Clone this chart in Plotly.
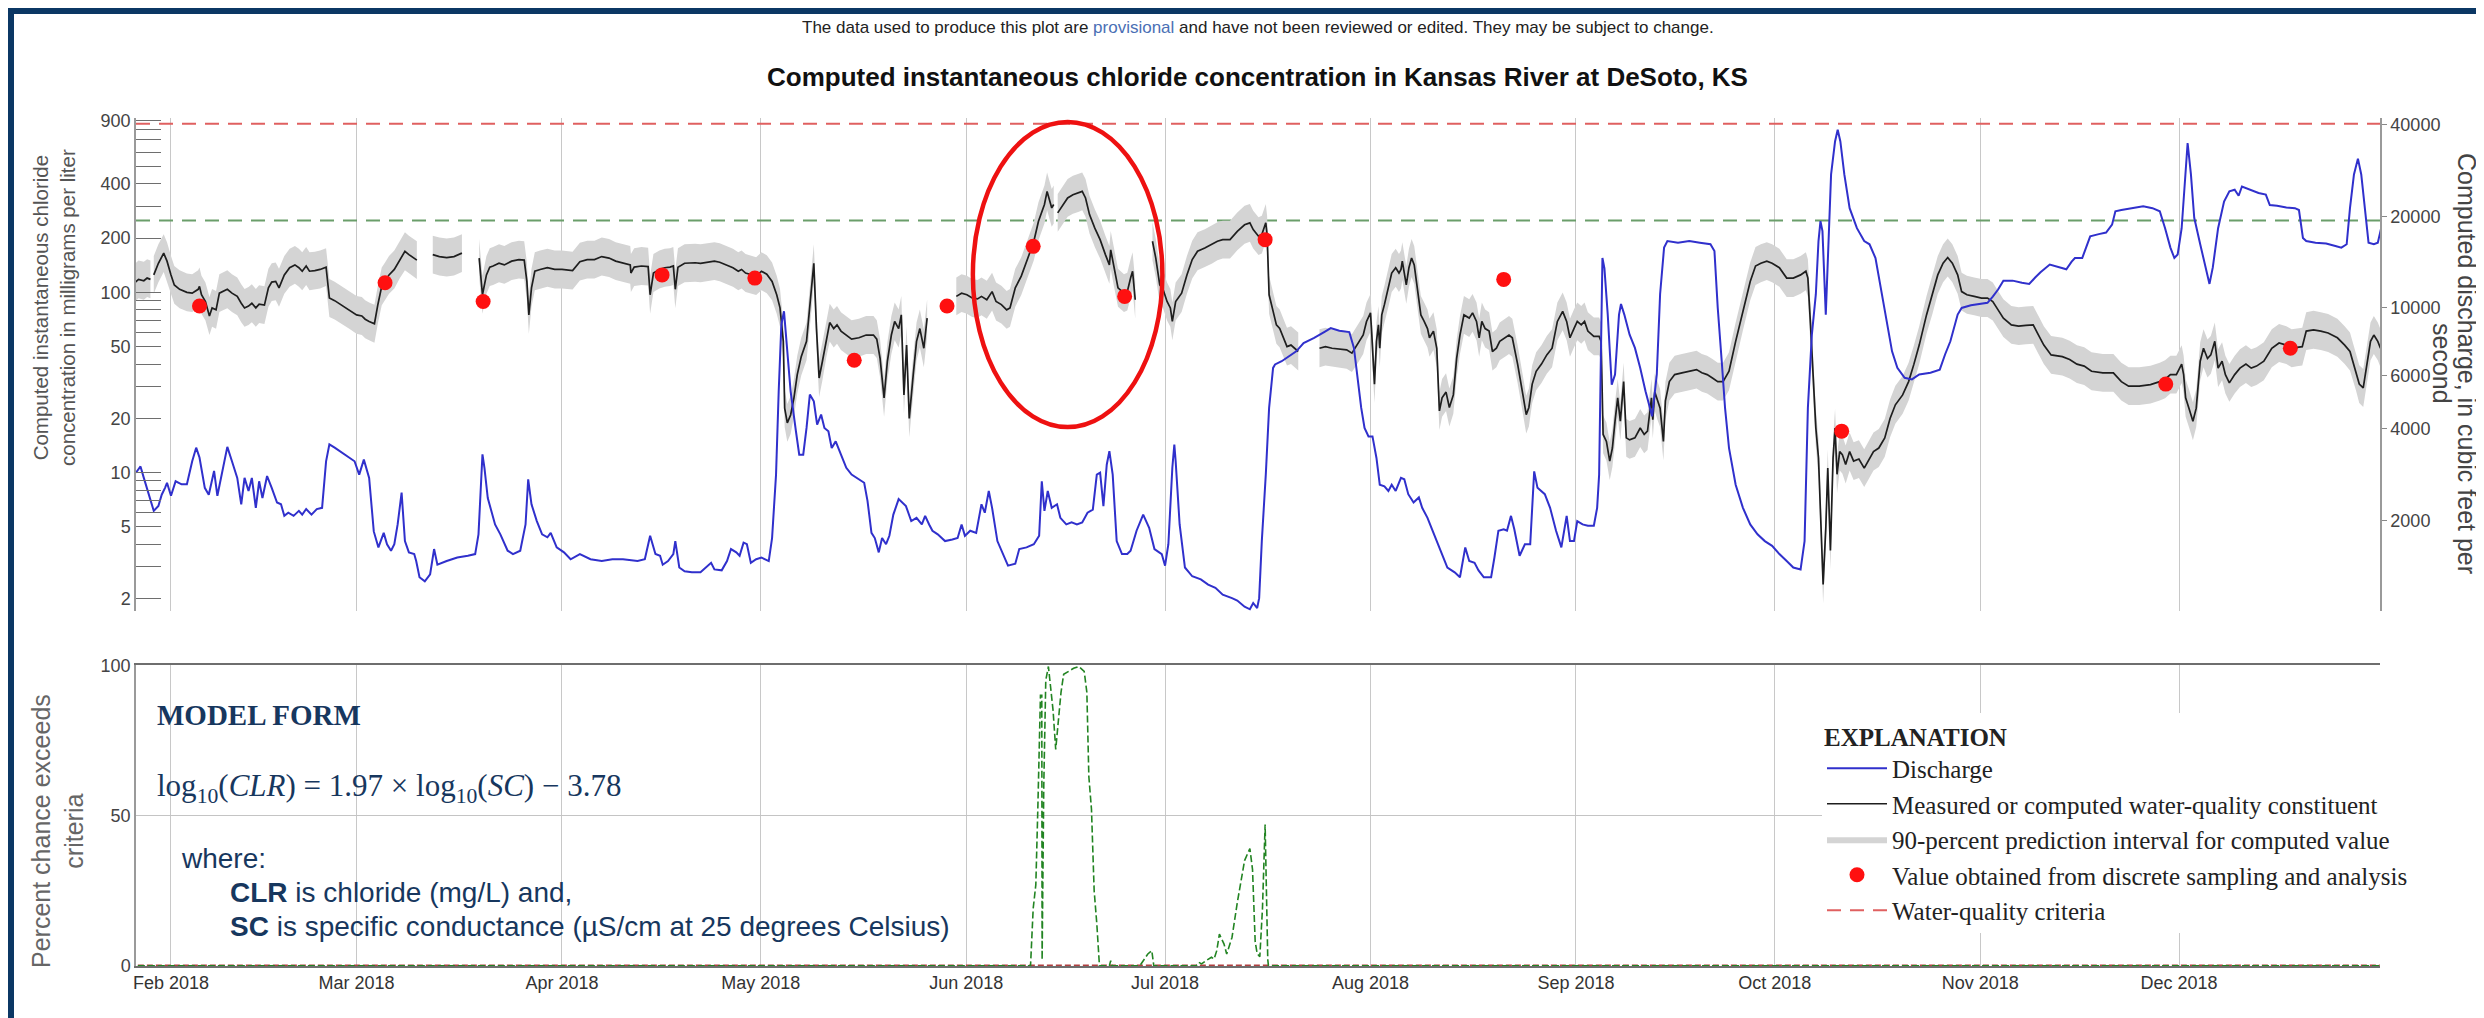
import pandas as pd
import plotly.graph_objects as go

BASE = pd.Timestamp("2018-01-01")          # day-of-year 0
X_RANGE_DAYS = (25.72, 364.33)

# Discharge, cubic feet per second: (day of year 2018, value)
DISCHARGE = [
    (25.7, 2870), (26.4, 3010), (26.9, 2760), (27.7, 2430), (28.4, 2150), (29.1, 2230), (29.6, 2430),
    (30.1, 2560), (30.4, 2660), (31.0, 2410), (31.7, 2690), (32.6, 2630), (33.4, 2630), (34.2, 3130),
    (34.8, 3470), (35.3, 3220), (36.1, 2560), (36.7, 2430), (37.5, 2910), (38.0, 2410), (38.8, 2980),
    (39.5, 3490), (40.2, 3130), (41.0, 2760), (41.6, 2260), (42.1, 2760), (42.7, 2500), (43.2, 2760),
    (43.8, 2200), (44.3, 2690), (44.8, 2370), (45.5, 2800), (46.2, 2560), (47.0, 2290), (47.6, 2260),
    (48.1, 2070), (48.7, 2120), (49.5, 2070), (50.3, 2150), (50.8, 2090), (51.4, 2180), (52.2, 2090),
    (53.0, 2180), (53.8, 2200), (54.4, 3130), (54.9, 3560), (55.7, 3470), (56.8, 3340), (57.9, 3220),
    (58.7, 3130), (59.4, 2830), (60.1, 3170), (60.9, 2760), (61.6, 1840), (62.3, 1630), (63.1, 1820),
    (63.6, 1670), (64.2, 1590), (64.7, 1670), (65.2, 1940), (65.8, 2470), (66.0, 2090), (66.3, 1710),
    (66.9, 1570), (67.7, 1550), (68.0, 1470), (68.5, 1300), (69.3, 1260), (70.1, 1330), (70.7, 1610),
    (71.2, 1430), (72.6, 1470), (74.2, 1510), (75.8, 1530), (76.9, 1550), (77.4, 1800), (78.0, 3300),
    (78.3, 2980), (78.8, 2370), (79.9, 1940), (80.7, 1800), (81.8, 1590), (82.6, 1550), (83.7, 1590),
    (84.5, 1940), (84.9, 2730), (85.4, 2260), (86.2, 1990), (87.0, 1800), (87.8, 1760), (88.3, 1820),
    (89.2, 1630), (90.3, 1570), (91.3, 1490), (92.7, 1550), (94.3, 1490), (96.0, 1470), (97.6, 1490),
    (99.2, 1490), (101.4, 1470), (102.5, 1490), (103.3, 1780), (104.1, 1550), (104.8, 1530), (105.2, 1430),
    (106.0, 1470), (106.8, 1550), (107.1, 1710), (107.7, 1400), (108.5, 1360), (109.6, 1350), (110.9, 1350),
    (112.0, 1420), (112.5, 1450), (113.0, 1380), (114.1, 1370), (114.9, 1470), (115.5, 1610), (116.3, 1570),
    (116.8, 1530), (117.4, 1690), (117.9, 1670), (118.5, 1450), (119.3, 1490), (120.1, 1510), (121.2, 1470),
    (121.7, 1750), (122.3, 2830), (122.7, 5320), (123.1, 8810), (123.5, 9750), (123.9, 7770), (124.5, 5320),
    (125.3, 3930), (125.8, 3290), (126.4, 3290), (126.9, 4030), (127.4, 5190), (128.0, 4930), (128.5, 4130),
    (129.1, 4460), (129.6, 4030), (130.2, 3930), (130.7, 3460), (131.3, 3640), (132.1, 3290), (132.9, 2980),
    (133.7, 2830), (134.8, 2730), (135.6, 2660), (136.1, 2320), (136.7, 1820), (137.2, 1750), (137.8, 1570),
    (138.3, 1750), (138.9, 1670), (139.4, 1780), (140.0, 2090), (140.8, 2350), (141.9, 2230), (142.7, 1990),
    (143.5, 2040), (144.3, 1940), (144.8, 2070), (145.4, 1940), (145.9, 1850), (146.7, 1800), (147.8, 1710),
    (148.9, 1730), (149.7, 1750), (150.3, 1940), (150.8, 1780), (151.6, 1850), (152.5, 1820), (153.3, 2260),
    (153.8, 2120), (154.4, 2500), (154.9, 2200), (155.7, 1710), (156.5, 1550), (157.3, 1420), (158.4, 1440),
    (159.0, 1610), (160.1, 1630), (161.2, 1670), (162.0, 1780), (162.4, 2690), (162.8, 2150), (163.3, 2500),
    (163.9, 2200), (164.7, 2260), (165.2, 2040), (166.1, 1940), (166.9, 1970), (167.7, 1940), (168.5, 1970),
    (169.3, 2120), (170.1, 2170), (170.7, 2830), (171.2, 2870), (171.7, 2230), (172.2, 3050), (172.6, 3380),
    (173.1, 2830), (173.7, 1710), (174.5, 1550), (175.3, 1550), (175.8, 1590), (176.7, 1850), (177.7, 2090),
    (178.6, 1890), (179.4, 1610), (180.5, 1550), (181.0, 1420), (181.5, 1670), (182.1, 2980), (182.4, 3550),
    (182.6, 3130), (183.2, 1940), (184.0, 1400), (185.1, 1310), (186.4, 1280), (187.5, 1230), (188.6, 1200),
    (189.7, 1140), (191.1, 1110), (191.9, 1090), (193.0, 1040), (193.8, 1020), (194.3, 1070), (194.9, 1030),
    (195.2, 1110), (195.6, 1710), (196.2, 2830), (196.7, 4690), (197.3, 6350), (197.6, 6520), (198.6, 6680),
    (199.7, 6940), (200.8, 7200), (201.9, 7670), (203.5, 7970), (205.2, 8380), (206.0, 8590), (207.3, 8410),
    (208.8, 8330), (209.5, 7390), (210.0, 6040), (210.6, 4690), (211.1, 4030), (211.7, 3780), (212.3, 3780),
    (212.9, 3210), (213.4, 2620), (214.1, 2590), (214.7, 2500), (215.2, 2620), (215.8, 2500), (216.6, 2760),
    (217.1, 2730), (217.7, 2440), (218.5, 2290), (219.3, 2380), (219.8, 2200), (220.6, 2040), (221.2, 1890),
    (222.0, 1710), (222.8, 1550), (223.6, 1400), (224.7, 1350), (225.5, 1300), (226.3, 1630), (226.9, 1470),
    (227.7, 1450), (228.3, 1370), (229.1, 1300), (230.2, 1300), (230.7, 1510), (231.3, 1850), (232.1, 1870),
    (232.6, 1850), (233.2, 2070), (233.7, 1870), (234.5, 1530), (235.3, 1670), (236.1, 1670), (236.7, 2900),
    (237.2, 2560), (237.8, 2500), (238.3, 2440), (239.1, 2200), (240.0, 1850), (240.8, 1630), (241.6, 2070),
    (242.1, 1710), (242.7, 1710), (243.2, 1990), (244.0, 1940), (244.8, 1920), (245.7, 1920), (246.2, 2200),
    (246.5, 2830), (246.8, 7770), (247.0, 14600), (247.3, 13500), (247.8, 9510), (248.4, 5590), (248.9, 6040),
    (249.5, 9510), (249.8, 10300), (250.3, 9510), (251.1, 8170), (251.9, 7390), (252.7, 6350), (253.5, 5320),
    (254.1, 4690), (254.5, 4400), (255.2, 6040), (255.7, 11100), (256.3, 15800), (256.8, 16600), (258.4, 16400),
    (260.1, 16600), (261.7, 16400), (263.3, 16200), (263.9, 15400), (264.4, 10000), (265.0, 6680), (265.5, 4690),
    (266.1, 3460), (267.1, 2620), (268.2, 2200), (269.3, 1940), (270.4, 1800), (271.5, 1710), (272.6, 1650),
    (273.7, 1550), (274.8, 1470), (275.8, 1400), (276.9, 1380), (277.5, 1710), (278.0, 4690), (278.6, 8170),
    (279.2, 11100), (279.6, 16600), (279.9, 19300), (280.2, 17900), (280.7, 9510), (281.1, 15800), (281.5, 27500),
    (282.1, 35300), (282.5, 38600), (282.9, 35300), (283.5, 27500), (284.3, 21300), (285.4, 18300), (286.5, 16600),
    (287.3, 16200), (288.2, 14600), (289.0, 11600), (289.8, 9040), (290.7, 7200), (291.5, 6350), (292.6, 5890),
    (293.7, 5820), (294.8, 6040), (296.5, 6120), (297.9, 6270), (298.7, 7030), (299.5, 7770), (300.6, 9510),
    (301.2, 10000), (302.6, 10200), (304.2, 10300), (305.1, 10400), (305.9, 10900), (306.7, 11500), (307.5, 12300),
    (308.9, 12300), (310.3, 12100), (311.4, 12000), (312.3, 12600), (313.1, 13100), (314.5, 13900), (315.6, 13700),
    (317.0, 13400), (317.8, 14200), (318.3, 14600), (319.4, 14600), (320.6, 17200), (321.9, 17500), (323.0, 17700),
    (323.9, 18800), (324.4, 20800), (325.3, 21000), (326.9, 21300), (328.6, 21600), (330.0, 21300), (331.1, 20800),
    (331.9, 18300), (332.7, 15800), (333.3, 14600), (333.8, 15000), (334.4, 18300), (334.9, 27500), (335.3, 34900),
    (335.8, 27500), (336.3, 19800), (337.2, 16200), (338.0, 13600), (338.6, 12000), (339.1, 13600), (339.9, 18300),
    (340.8, 22400), (341.6, 24200), (342.4, 24500), (343.0, 23400), (343.5, 25100), (344.6, 24500), (346.0, 23900),
    (347.1, 23600), (347.7, 21800), (348.8, 21700), (350.2, 21400), (351.5, 21300), (352.1, 21000), (352.7, 17000),
    (353.2, 16600), (354.6, 16400), (356.2, 16300), (357.6, 16000), (358.5, 15800), (359.3, 16200), (359.8, 21300),
    (360.4, 27500), (361.0, 31000), (361.5, 27500), (362.1, 21300), (362.6, 16400), (363.4, 16200), (364.0, 16400),
    (364.5, 18300),
]

# Computed chloride, mg/L: (day of year 2018, value); None = no record
CHLORIDE = [
    (25.5, 113), (26.1, 118), (26.9, 116), (27.4, 120), (27.9, 118), (28.15, None), (28.4, 125), (29.1, 145),
    (29.9, 165), (30.4, 149), (31.0, 125), (31.5, 110), (32.3, 104), (33.4, 100), (34.2, 99), (35.1, 104),
    (35.3, 108), (35.6, 97), (36.2, 89), (36.8, 74), (37.2, 82), (37.8, 80), (38.3, 99), (39.0, 102),
    (39.5, 104), (40.2, 99), (41.0, 95), (41.6, 87), (42.1, 82), (42.7, 84), (43.2, 87), (43.8, 82),
    (44.3, 86), (45.1, 85), (45.7, 106), (46.2, 114), (46.8, 115), (47.3, 106), (48.1, 125), (48.9, 137),
    (49.7, 142), (50.3, 137), (50.8, 131), (51.4, 140), (51.9, 131), (52.7, 132), (53.5, 134), (54.4, 138),
    (54.9, 93), (55.7, 90), (56.8, 85), (57.9, 80), (59.0, 75), (59.8, 74), (60.3, 71), (60.9, 69),
    (61.7, 67), (62.2, 85), (62.8, 108), (63.3, 115), (63.9, 125), (64.7, 134), (65.5, 152), (66.3, 169),
    (66.9, 162), (67.4, 158), (68.1, 151), (69.3, None), (70.5, 162), (71.5, 158), (72.6, 156), (73.7, 158),
    (74.9, 165), (76.2, None), (77.5, 155), (78.0, 97), (78.6, 125), (79.1, 138), (79.6, 140), (80.5, 145),
    (81.3, 142), (82.4, 149), (83.5, 152), (84.3, 151), (84.7, 115), (85.0, 75), (85.4, 106), (85.9, 131),
    (86.7, 134), (87.8, 137), (88.9, 134), (90.0, 134), (91.6, 132), (92.7, 148), (93.8, 152), (94.9, 152),
    (96.0, 158), (97.1, 155), (98.1, 149), (99.2, 145), (100.3, 142), (100.4, 128), (100.9, 138), (102.0, 140),
    (103.0, 139), (103.3, 97), (103.8, 128), (104.7, 134), (105.5, 137), (106.3, 138), (106.8, 140), (107.1, 104),
    (107.5, 138), (108.5, 145), (110.1, 146), (110.9, 145), (112.0, 147), (113.0, 149), (113.8, 147), (114.7, 142),
    (115.8, 137), (116.6, 131), (117.1, 134), (117.7, 128), (118.5, 125), (119.3, 123), (120.1, 131), (120.9, 126),
    (121.7, 115), (122.4, 97), (122.9, 82), (123.4, 53.5), (123.6, 22.8), (124.0, 18.9), (124.5, 20.9), (125.0, 26),
    (125.5, 35), (126.1, 44), (126.9, 53.5), (127.3, 75), (127.7, 106), (128.0, 145), (128.4, 63), (128.8, 33.5),
    (129.3, 41.5), (129.9, 56), (130.4, 68), (131.0, 63), (131.5, 66), (132.1, 61), (132.9, 58), (133.7, 55),
    (134.8, 56), (135.9, 58), (137.0, 58), (137.5, 55), (138.0, 43), (138.6, 26), (139.1, 41.5), (139.7, 58),
    (140.2, 69), (140.8, 63), (141.2, 75), (141.6, 27), (142.0, 51), (142.4, 20), (143.0, 35), (143.5, 53.5),
    (144.0, 63), (144.6, 49), (145.1, 72), (147.3, None), (149.5, 95), (150.3, 99), (151.1, 97), (151.9, 93),
    (152.7, 92), (153.3, 95), (154.1, 91), (154.9, 101), (155.5, 89), (156.3, 85.5), (157.1, 80), (157.6, 82),
    (158.4, 106), (159.3, 123), (160.3, 155), (161.2, 192), (161.9, 248), (162.4, 281), (162.8, 307), (163.2, 363),
    (163.5, 327), (163.9, 294), (164.2, 307), (164.5, None), (164.8, 276), (165.5, 300), (166.3, 334), (167.1, 348),
    (168.0, 356), (168.5, 363), (169.0, 334), (169.6, 270), (170.4, 227), (171.2, 196), (172.0, 162), (172.6, 142),
    (172.8, 172), (173.3, 137), (173.9, 106), (174.8, 99), (175.3, 101), (175.8, 120), (176.1, 131), (176.5, 91),
    (177.8, None), (179.1, 192), (179.6, 155), (180.2, 110), (180.7, 104), (181.3, 89), (181.8, 82), (182.1, 69),
    (182.6, 89), (183.5, 99), (184.3, 125), (185.1, 152), (185.9, 169), (187.0, 176), (188.1, 184), (188.9, 192),
    (189.7, 196), (190.8, 196), (191.9, 218), (193.0, 237), (193.8, 243), (194.3, 223), (195.1, 205), (195.6, 209),
    (196.2, 243), (196.4, 209), (196.7, 97), (197.3, 78.5), (197.8, 66), (198.3, 63), (198.9, 56), (199.4, 50),
    (200.0, 51), (200.5, 49), (201.1, 47), (202.7, None), (204.3, 49), (205.2, 50), (206.2, 49), (207.3, 48.7),
    (208.4, 48), (209.2, 46), (210.0, 51), (210.9, 58), (211.4, 69), (212.0, 77), (212.2, 58), (212.6, 31),
    (212.9, 53.5), (213.2, 66), (213.4, 49), (213.7, 75), (214.1, 85.5), (214.7, 106), (215.2, 128), (215.8, 137),
    (216.3, 128), (216.6, 134), (216.8, 149), (217.4, 110), (217.8, 137), (218.2, 155), (218.6, 142), (219.0, 110),
    (219.6, 75), (220.1, 69), (220.6, 63), (220.9, 56), (221.5, 61), (222.0, 49), (222.4, 22), (222.8, 26),
    (223.4, 28), (223.9, 23), (224.5, 27), (225.0, 43), (225.5, 58), (226.1, 75), (226.9, 72), (227.4, 77),
    (228.0, 69), (228.4, 56), (228.8, 69), (229.3, 63), (229.9, 61), (230.4, 47), (231.0, 49), (231.5, 53.5),
    (232.3, 56), (232.9, 58), (233.4, 56), (234.2, 40), (235.0, 27), (235.5, 21), (235.9, 23), (236.4, 31),
    (237.0, 36.5), (237.8, 40), (238.6, 45), (239.4, 49), (240.2, 69), (241.0, 78.5), (241.6, 69), (242.1, 56),
    (242.7, 63), (243.2, 69), (243.8, 66), (244.3, 69), (244.8, 61), (245.7, 57), (246.5, 57), (246.8, 53.5),
    (247.1, 16.3), (247.6, 14.9), (248.1, 11.6), (248.5, 13.7), (248.9, 19.3), (249.3, 26), (249.7, 19.3), (250.2, 32),
    (250.6, 15.6), (251.1, 15.2), (251.9, 15.6), (252.7, 17.7), (253.3, 16.3), (253.8, 17), (254.4, 26), (254.6, 19.7),
    (254.9, 28), (255.3, 25), (255.7, 22.8), (256.2, 14.9), (256.5, 25), (257.1, 32), (257.9, 35), (259.0, 35.8),
    (260.1, 36.5), (261.2, 37.3), (262.0, 35.8), (262.8, 35), (263.6, 33.5), (264.4, 32), (265.2, 32), (266.1, 36.5),
    (267.1, 53.5), (268.2, 78.5), (269.3, 115), (270.1, 140), (270.9, 145), (271.8, 149), (272.6, 145), (273.7, 137),
    (274.8, 120), (275.8, 120), (276.9, 125), (277.7, 131), (278.0, 120), (278.4, 66), (278.8, 33), (279.2, 17.7),
    (279.6, 12.1), (280.0, 4.5), (280.3, 2.4), (280.7, 4.9), (281.0, 10.6), (281.4, 3.7), (281.8, 12.1), (282.1, 17.7),
    (282.4, 9.8), (282.8, 13.1), (283.2, 12.6), (283.7, 11.1), (284.3, 13.1), (284.9, 11.6), (285.7, 11.9), (286.5, 10.6),
    (287.1, 11.6), (287.9, 13.1), (288.7, 13.7), (289.6, 15.6), (290.4, 20), (291.2, 23.8), (292.3, 27), (293.2, 32),
    (294.0, 40), (294.8, 51), (295.9, 75), (296.8, 97), (297.6, 125), (298.4, 145), (299.1, 156), (299.8, 145),
    (300.6, 125), (301.2, 101), (302.0, 97), (303.1, 95), (304.2, 93), (305.1, 93), (305.9, 89), (306.7, 80),
    (307.5, 72), (308.7, 66), (309.8, 65), (310.9, 65.6), (312.0, 66), (312.8, 58), (313.6, 51), (314.7, 45),
    (316.4, 44), (317.5, 42.4), (318.6, 40), (319.7, 39), (320.8, 36.5), (322.5, 35.8), (324.1, 35.8), (325.3, 32),
    (326.4, 30.2), (328.0, 30.2), (329.7, 30.8), (331.1, 32), (331.9, 33), (332.7, 35), (333.6, 35), (334.1, 38),
    (334.4, 40), (334.7, 35), (335.0, 26), (335.5, 22.8), (336.1, 19.3), (336.6, 22.8), (337.2, 41.5), (337.7, 49),
    (338.3, 43), (338.8, 45), (339.4, 53.5), (339.9, 38), (340.5, 41.5), (341.0, 35), (341.6, 31.5), (342.4, 35),
    (343.2, 38), (344.1, 40), (344.9, 38), (345.7, 39), (346.8, 41.5), (348.0, 49), (349.1, 52.4), (350.2, 51),
    (351.0, 49), (351.8, 49.5), (352.6, 50), (353.2, 61), (354.3, 62), (355.4, 61), (356.5, 59.5), (357.9, 56),
    (359.0, 51), (359.8, 47), (360.7, 36.5), (361.2, 31), (361.8, 29.5), (362.3, 38), (362.9, 53.5), (363.4, 58),
    (364.0, 53.5), (364.4, 49),
]

# Discrete samples, mg/L
SAMPLES = [
    (35.3, 84), (63.3, 113), (78.1, 89), (105.1, 125), (119.1, 120), (134.1, 42), (148.1, 84),
    (161.1, 180), (174.9, 95), (196.1, 196), (232.1, 118), (283.1, 17), (332.0, 31), (350.8, 49),
]

# Percent chance computed chloride exceeds 250 mg/L
PCT_EXCEED_250 = [
    (26.0, 0), (160.7, 0), (161.1, 19), (161.5, 27), (161.8, 52), (162.2, 90), (162.4, 90), (162.45, 2),
    (162.7, 60), (163.0, 95), (163.4, 99.6), (163.8, 92), (164.1, 85), (164.5, 72), (164.9, 83), (165.3, 91),
    (165.7, 97), (166.5, 98), (167.2, 99), (168.0, 99.6), (168.8, 98), (169.2, 91), (169.5, 63), (169.9, 52),
    (170.3, 25), (170.7, 14), (171.1, 0), (172.6, 0), (172.8, 1.7), (173.0, 0), (177.2, 0), (178.4, 3.9),
    (179.0, 5.0), (179.3, 0), (185.7, 0), (186.1, 1.1), (186.5, 0.6), (187.2, 1.7), (188.0, 2.8), (188.4, 2.2),
    (188.8, 5.0), (189.2, 10.5), (189.6, 8.3), (189.9, 7.2), (190.3, 3.9), (191.1, 9.4), (191.9, 21), (192.6, 30),
    (193.0, 35), (193.4, 37), (193.8, 39), (194.2, 32), (194.6, 8), (194.9, 4), (195.3, 3), (195.7, 19),
    (196.1, 47), (196.5, 2), (196.6, 0), (364.3, 0),
]
# Percent chance computed chloride exceeds 860 mg/L
PCT_EXCEED_860 = [(26.0, 0), (364.3, 0)]

CRITERIA_ACUTE = 860
CRITERIA_CHRONIC = 250
PI_HALF_WIDTH_LOG10 = 0.105

LEFT_TICKS = [2, 3, 4, 5, 6, 7, 8, 9, 10, 20, 30, 40, 50, 60, 70, 80, 90,
              100, 200, 300, 400, 500, 600, 700, 800, 900]
LEFT_LABELED = [2, 5, 10, 20, 50, 100, 200, 400, 900]
RIGHT_TICKS = [2000, 4000, 6000, 10000, 20000, 40000]
PCT_TICKS = [0, 50, 100]

SANS = "Liberation Sans, Arial, Helvetica, sans-serif"
SERIF = "Liberation Serif, Times New Roman, serif"
NAVY_TEXT = "#17375e"


def d2t(d):
    return BASE + pd.Timedelta(days=d)


x_full = [d2t(X_RANGE_DAYS[0]), d2t(X_RANGE_DAYS[1])]

# prediction-interval band, one closed polygon per record segment
segs, cur = [], []
for d, c in CHLORIDE:
    if c is None:
        if cur:
            segs.append(cur)
        cur = []
    else:
        cur.append((d, c))
if cur:
    segs.append(cur)
fac = 10 ** PI_HALF_WIDTH_LOG10
band_x, band_y = [], []
for s in segs:
    xs = [d2t(d) for d, _ in s]
    band_x += xs + xs[::-1] + [None]
    band_y += [c * fac for _, c in s] + [c / fac for _, c in s][::-1] + [None]

fig = go.Figure()

fig.add_trace(go.Scatter(
    x=x_full, y=[CRITERIA_ACUTE, CRITERIA_ACUTE], mode="lines", name="Water-quality criteria",
    line=dict(color="#e06060", width=2, dash="14px,9px"), legendrank=5, xaxis="x", yaxis="y",
    hoverinfo="skip"))
fig.add_trace(go.Scatter(
    x=x_full, y=[CRITERIA_CHRONIC, CRITERIA_CHRONIC], mode="lines", showlegend=False,
    line=dict(color="#6a9e6a", width=2, dash="14px,9px"), xaxis="x", yaxis="y", hoverinfo="skip"))
fig.add_trace(go.Scatter(
    x=band_x, y=band_y, mode="lines", fill="toself", fillcolor="#d4d4d4", line=dict(width=0, color="#d4d4d4"),
    name="90-percent prediction interval for computed value", legendrank=3, xaxis="x", yaxis="y",
    hoverinfo="skip"))
fig.add_trace(go.Scatter(
    x=[d2t(d) for d, _ in CHLORIDE], y=[c for _, c in CHLORIDE], mode="lines",
    line=dict(color="#1e1e1e", width=1.7), name="Measured or computed water-quality constituent",
    legendrank=2, xaxis="x", yaxis="y"))
fig.add_trace(go.Scatter(
    x=[d2t(d) for d, _ in SAMPLES], y=[c for _, c in SAMPLES], mode="markers",
    marker=dict(color="#ff1010", size=15, line=dict(width=0)),
    name="Value obtained from discrete sampling and analysis", legendrank=4, xaxis="x", yaxis="y"))
fig.add_trace(go.Scatter(
    x=[d2t(d) for d, _ in DISCHARGE], y=[q for _, q in DISCHARGE], mode="lines",
    line=dict(color="#3030cc", width=2), name="Discharge", legendrank=1, xaxis="x", yaxis="y2"))

fig.add_trace(go.Scatter(
    x=[d2t(d) for d, _ in PCT_EXCEED_860], y=[v for _, v in PCT_EXCEED_860], mode="lines",
    line=dict(color="#b04040", width=2.2, dash="6px,3px"), showlegend=False, xaxis="x2", yaxis="y3"))
fig.add_trace(go.Scatter(
    x=[d2t(d) for d, _ in PCT_EXCEED_250], y=[v for _, v in PCT_EXCEED_250], mode="lines",
    line=dict(color="#228422", width=1.6, dash="7px,3px"), showlegend=False, xaxis="x2", yaxis="y3"))

# layout geometry (pixels): plot area x 128..2372, y 110..958
PL, PR, PT, PB = 128, 2372, 110, 958
W, H = PR - PL, PB - PT


def px(x):
    return (x - PL) / W


def py(y):
    return (PB - y) / H


fig.update_layout(
    width=2484, height=1018,
    margin=dict(l=PL, r=2484 - PR, t=PT, b=1018 - PB),
    paper_bgcolor="#0b3764", plot_bgcolor="white",
    showlegend=True,
    xaxis=dict(domain=[0, 1], anchor="y", type="date", range=x_full, dtick="M1", tick0="2018-02-01",
               showgrid=True, gridcolor="#c8c8c8", gridwidth=1, showticklabels=False, ticks="",
               zeroline=False, showline=False),
    yaxis=dict(domain=[py(603), 1], anchor="x", type="log", range=[0.233, 2.967], tickmode="array",
               tickvals=LEFT_TICKS, ticktext=[str(v) if v in LEFT_LABELED else "" for v in LEFT_TICKS],
               ticks="inside", ticklen=25, tickwidth=1.2, tickcolor="#6e6e6e", showline=True,
               linecolor="#9a9a9a", linewidth=1.5, showgrid=False, zeroline=False,
               tickfont=dict(family=SANS, size=18, color="#444")),
    yaxis2=dict(overlaying="y", side="right", anchor="x", type="log", range=[3.003, 4.625], tickmode="array",
                tickvals=RIGHT_TICKS, ticktext=[str(v) for v in RIGHT_TICKS], ticks="outside", ticklen=5,
                tickcolor="#888", showline=True, linecolor="#9a9a9a", linewidth=1.5, showgrid=False,
                zeroline=False, tickfont=dict(family=SANS, size=18, color="#444")),
    xaxis2=dict(domain=[0, 1], anchor="y3", type="date", range=x_full, dtick="M1", tick0="2018-02-01",
                tickformat="%b %Y", showgrid=True, gridcolor="#c8c8c8", gridwidth=1, ticks="",
                showline=True, linecolor="#6e6e6e", linewidth=1.5, mirror=True, zeroline=False,
                tickfont=dict(family=SANS, size=18, color="#333"), ticklabelstandoff=0),
    yaxis3=dict(domain=[0, py(657)], anchor="x2", range=[-0.1, 100.1], tickmode="array", tickvals=PCT_TICKS,
                showgrid=True, gridcolor="#c4c4c4", showline=True, linecolor="#9a9a9a", linewidth=1.5,
                ticks="", zeroline=False, tickfont=dict(family=SANS, size=18, color="#444")),
    legend=dict(x=px(1814), y=py(705), xanchor="left", yanchor="top", bgcolor="white", borderwidth=0,
                font=dict(family=SERIF, size=25, color="#222"), itemwidth=60, tracegroupgap=0,
                title=dict(text="<b>EXPLANATION</b>", font=dict(family=SERIF, size=25, color="#222"))),
    shapes=[
        dict(type="rect", xref="paper", yref="paper", x0=px(6), x1=px(2478), y0=py(1012), y1=py(6),
             fillcolor="white", line=dict(width=0), layer="below"),
        dict(type="circle", xref="x", yref="y", x0=d2t(152.0), x1=d2t(180.6), y0=17.9, y1=881,
             line=dict(color="#ee1111", width=4.5), fillcolor="rgba(0,0,0,0)"),
    ],
    annotations=[
        dict(xref="paper", yref="paper", x=px(1250), y=py(19), xanchor="center", yanchor="middle",
             showarrow=False,
             text=("The data used to produce this plot are <span style='color:#4a6fb5'>provisional</span> "
                   "and have not been reviewed or edited. They may be subject to change."),
             font=dict(family=SANS, size=17, color="#222")),
        dict(xref="paper", yref="paper", x=px(1249), y=py(69), xanchor="center", yanchor="middle",
             showarrow=False,
             text="<b>Computed instantaneous chloride concentration in Kansas River at DeSoto, KS</b>",
             font=dict(family=SANS, size=26, color="#111")),
        dict(xref="paper", yref="paper", x=px(46), y=py(300), xanchor="center", yanchor="middle",
             showarrow=False, textangle=-90,
             text="Computed instantaneous chloride<br>concentration in milligrams per liter",
             font=dict(family=SANS, size=20.5, color="#555")),
        dict(xref="paper", yref="paper", x=px(2459), y=py(355), xanchor="center", yanchor="middle",
             showarrow=False, textangle=90,
             text="Computed discharge, in cubic feet per",
             font=dict(family=SANS, size=25, color="#444")),
        dict(xref="paper", yref="paper", x=px(2434), y=py(355), xanchor="center", yanchor="middle",
             showarrow=False, textangle=90, text="second",
             font=dict(family=SANS, size=25, color="#444")),
        dict(xref="paper", yref="paper", x=px(49), y=py(823), xanchor="center", yanchor="middle",
             showarrow=False, textangle=-90, text="Percent chance exceeds<br>criteria",
             font=dict(family=SANS, size=25, color="#666")),
        dict(xref="paper", yref="paper", x=px(147), y=py(707), xanchor="left", yanchor="middle",
             showarrow=False, text="<b>MODEL FORM</b>",
             font=dict(family=SERIF, size=29, color=NAVY_TEXT)),
        dict(xref="paper", yref="paper", x=px(147), y=py(780), xanchor="left", yanchor="middle",
             showarrow=False,
             text="log<sub>10</sub>(<i>CLR</i>) = 1.97 × log<sub>10</sub>(<i>SC</i>) − 3.78",
             font=dict(family=SERIF, size=31, color=NAVY_TEXT)),
        dict(xref="paper", yref="paper", x=px(171), y=py(850), xanchor="left", yanchor="middle",
             showarrow=False, text="where:", font=dict(family=SANS, size=28, color=NAVY_TEXT)),
        dict(xref="paper", yref="paper", x=px(220), y=py(884), xanchor="left", yanchor="middle",
             showarrow=False, text="<b>CLR</b> is chloride (mg/L) and,",
             font=dict(family=SANS, size=28, color=NAVY_TEXT)),
        dict(xref="paper", yref="paper", x=px(220), y=py(918), xanchor="left", yanchor="middle",
             showarrow=False, text="<b>SC</b> is specific conductance (µS/cm at 25 degrees Celsius)",
             font=dict(family=SANS, size=28, color=NAVY_TEXT)),
    ],
)

fig.write_html("out.html")
